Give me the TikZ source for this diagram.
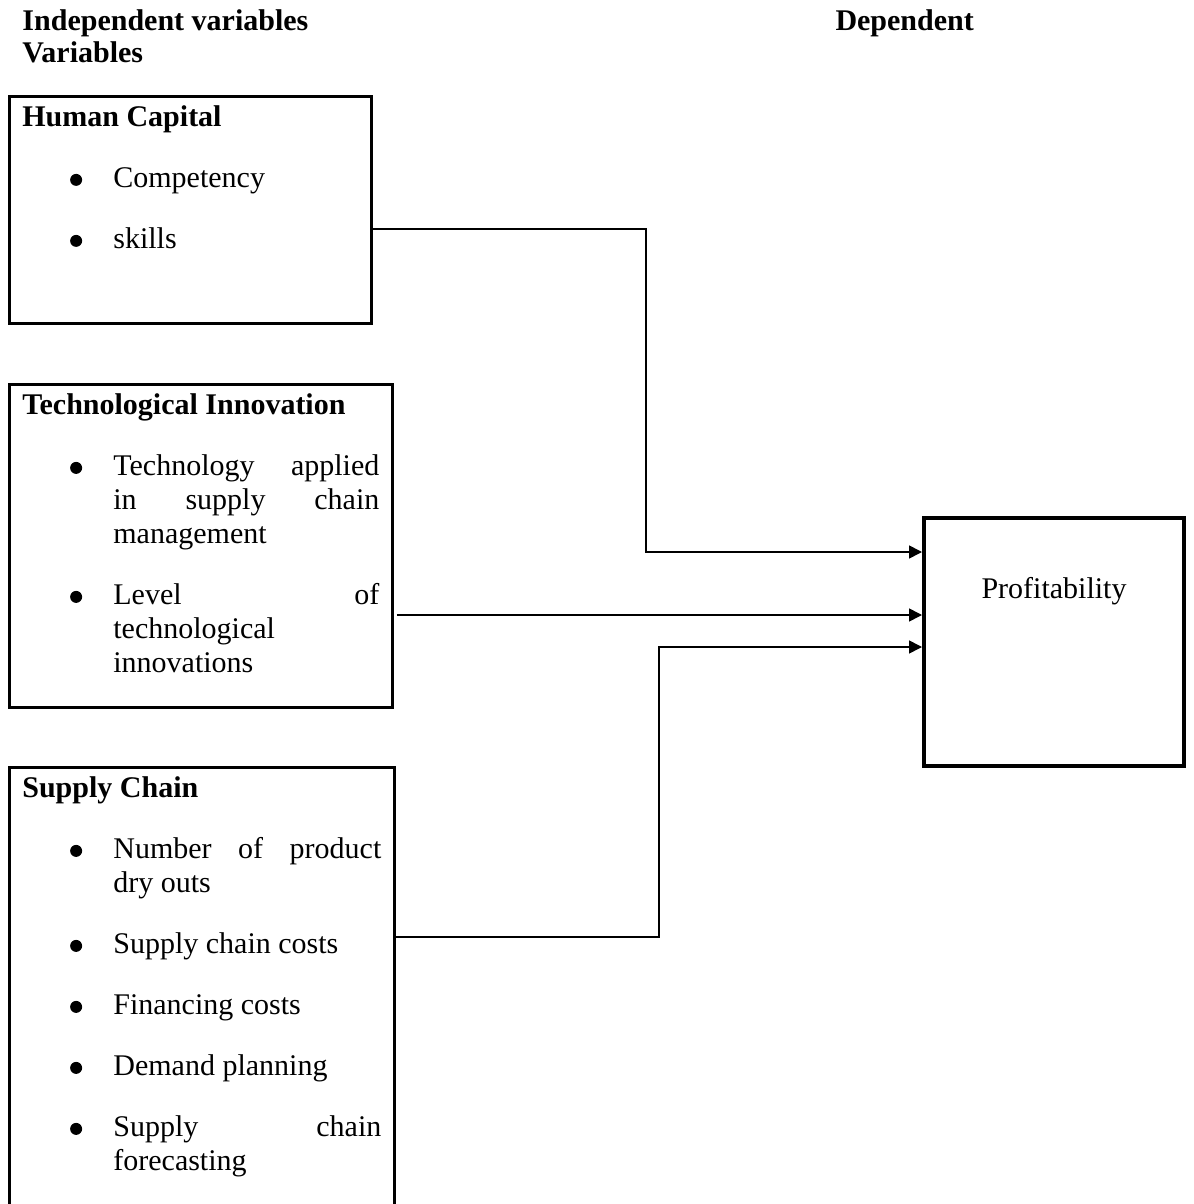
\documentclass[tikz,border=0pt]{standalone}
\usepackage{fontspec}
\setmainfont{Liberation Serif}
\usetikzlibrary{arrows.meta,calc}
\newlength\itemgap
\setlength\itemgap{10.8pt}
\newcommand\boxhead[1]{\rule{0pt}{12.2pt}\textbf{#1}\par}
\newcommand\bdot{\tikz[baseline=0pt]\fill (0,3.2pt) circle (2.4pt);}
\newcommand\bitem[1]{\par\vspace{\itemgap}%
  {\leftskip=36.4pt\noindent\llap{\bdot\hspace{12.5pt}}#1\par}}
\newcommand\boxbody[3]{\parbox[c][#2][t]{#1}{\parskip=0pt\parindent=0pt #3}}
\tikzset{
  txt/.style ={font=\fontsize{12}{13.6}\selectfont},
  blk/.style ={draw,line width=1.1pt,inner xsep=5.2pt,inner ysep=0pt,
               anchor=north west,txt},
  res/.style ={blk,line width=1.6pt},
  sig/.style ={-{Triangle[length=5.2pt,width=5.2pt]},line width=0.65pt},
  hdr/.style ={font=\fontsize{12}{12.8}\selectfont\bfseries,align=left,
               inner sep=0pt,anchor=base west},
}

\begin{document}
\begin{tikzpicture}[x=0.4pt, y=-0.4pt]
\useasboundingbox (0,0) rectangle (1193,1204);
\clip (0,0) rectangle (1193,1204);

% base of a two-line node is its last line
\node[hdr] (indep) at (22,63) {Independent variables\\Variables};
\node[hdr] (dep)   at (835,31) {Dependent};

% the three groups of independent variables
\node[blk] (hc) at (8,95)
  {\boxbody{134.4pt}{90.8pt}{\boxhead{Human Capital}
   \bitem{Competency}
   \bitem{skills}}};

\node[blk] (tech) at (8,383)
  {\boxbody{142.8pt}{129.2pt}{\boxhead{Technological Innovation}
   \bitem{Technology\hfill applied\\ in\hfill supply\hfill chain\\ management}
   \bitem{Level\hfill of\\ technological\\ innovations}}};

\node[blk] (sc) at (8,766)
  {\boxbody{143.6pt}{179.2pt}{\boxhead{Supply Chain}
   \bitem{Number\hfill of\hfill product\\ dry outs}
   \bitem{Supply chain costs}
   \bitem{Financing costs}
   \bitem{Demand planning}
   \bitem{Supply\hfill chain\\ forecasting}}};

\node[res] (prof) at (922,516)
  {\parbox[c][99.2pt][t]{93.6pt}{\centering\rule{0pt}{32pt}Profitability}};

% connectors into the dependent variable
\draw[sig] ($(hc.north east)+(-2,134)$) -| ($(prof.north west)+(-276,36)$)
  -- ($(prof.north west)+(0,36)$);
\draw[sig] ($(tech.east |- prof.north)+(3,99)$) -- ($(prof.north west)+(0,99)$);
\draw[sig] ($(sc.north east)+(0,171)$) -| ($(prof.north west)+(-263,131)$)
  -- ($(prof.north west)+(0,131)$);
\end{tikzpicture}
\end{document}
